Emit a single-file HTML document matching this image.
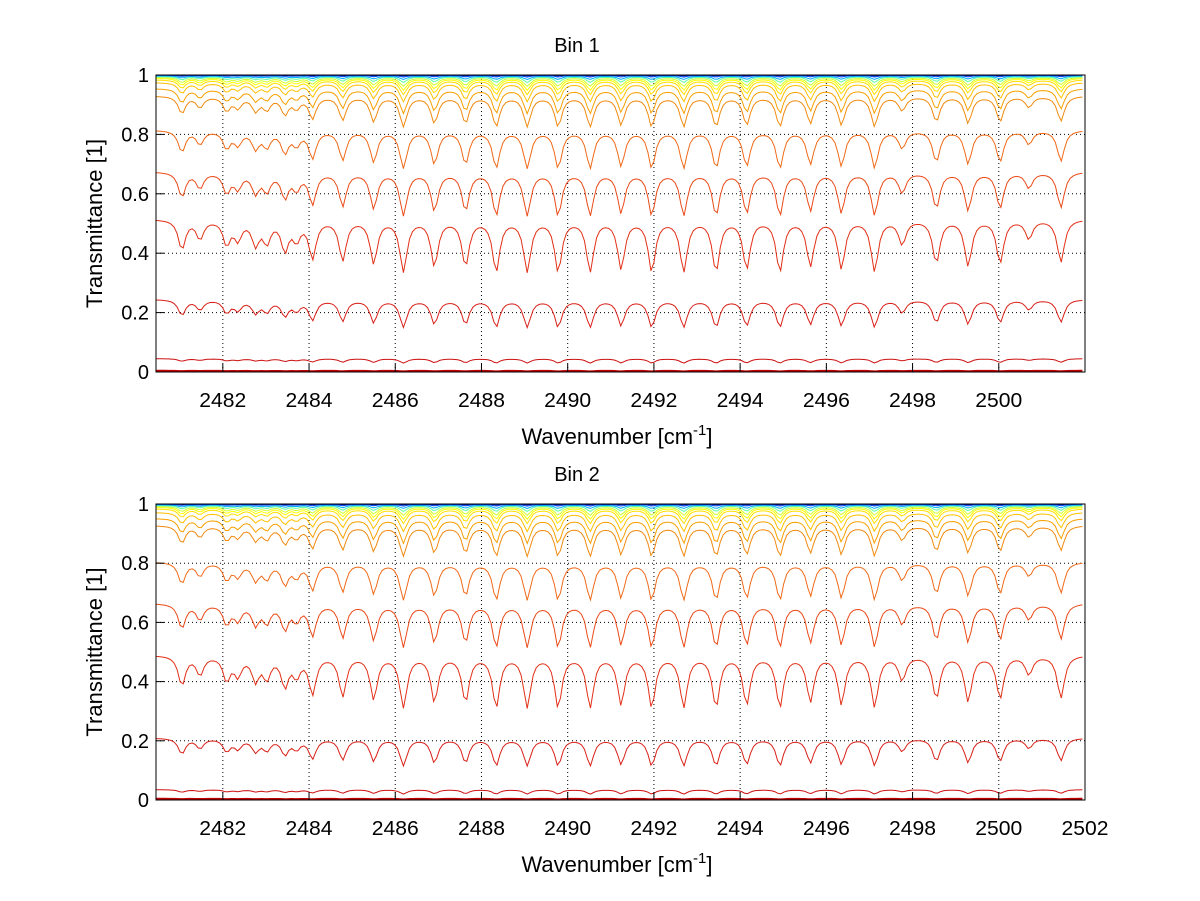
<!DOCTYPE html>
<html><head><meta charset="utf-8"><style>
body{margin:0;background:#fff;}
svg{display:block;font-family:"Liberation Sans",sans-serif;}
</style></head><body>
<svg id="fig" width="1200" height="901" viewBox="0 0 1200 901" xmlns="http://www.w3.org/2000/svg"></svg>
<script>
// Absorption line centres (cm^-1) and relative strengths
const lineCenters=[2481.05,2481.47,2482.09,2482.35,2482.76,2483.02,2483.44,2483.71,2484.08,2484.78,2485.50,2486.19,2486.91,2487.63,2488.34,2489.06,2489.78,2490.52,2491.24,2491.95,2492.69,2493.44,2494.15,2494.92,2495.63,2496.35,2497.12,2497.76,2498.55,2499.29,2500.03,2500.70,2501.44];
const lineStrengths=[0.55,0.35,0.45,0.35,0.45,0.4,0.55,0.35,0.7,0.75,0.8,0.95,0.85,0.85,0.95,0.95,0.95,0.95,0.9,0.95,0.95,0.95,0.9,0.95,0.85,0.9,0.95,0.45,0.8,0.85,0.8,0.35,0.8];
// Per-curve continuum level, absorption depth and colour (bin 1 / bin 2)
const levels1=[1.0,0.999,0.997,0.995,0.992,0.989,0.984,0.975,0.955,0.93,0.815,0.675,0.515,0.245,0.045,0.004];
const depths1=[0.003,0.006,0.012,0.02,0.03,0.04,0.05,0.065,0.085,0.105,0.13,0.15,0.18,0.095,0.015,0.002];
const levels2=[1.0,0.999,0.997,0.995,0.992,0.989,0.984,0.972,0.952,0.928,0.805,0.665,0.49,0.21,0.035,0.004];
const depths2=[0.003,0.006,0.012,0.02,0.03,0.04,0.05,0.065,0.085,0.105,0.13,0.15,0.18,0.095,0.015,0.002];
const curveColors=["#0020b0","#0050ff","#00b0ff","#60ffa0","#d0ff30","#ffff00","#ffe000","#ffc000","#f8a000","#f08a10","#f06a18","#ea4a18","#e23018","#d82018","#cc1010","#c00000"];
const xTicks1=[2482,2484,2486,2488,2490,2492,2494,2496,2498,2500];
const xTicks2=[2482,2484,2486,2488,2490,2492,2494,2496,2498,2500,2502];
const yTicks=[0,0.2,0.4,0.6,0.8,1];

const NS="http://www.w3.org/2000/svg";
const svg=document.getElementById('fig');
const XMIN=2480.45,XMAX=2502,PX0=156,PX1=1085;
function sx(w){return PX0+(w-XMIN)/(XMAX-XMIN)*(PX1-PX0);}
function mk(tag,attrs,parent){const e=document.createElementNS(NS,tag);for(const k in attrs)e.setAttribute(k,attrs[k]);(parent||svg).appendChild(e);return e;}
function absorb(w){let g=0;for(let i=0;i<lineCenters.length;i++){const d=(w-lineCenters[i])/0.1;g+=lineStrengths[i]/(1+d*d);}return Math.min(g,1.2);}

function panel(yTop,yBot,levels,depths,xTicks,title,idx){
  const sy=v=>yBot-v*(yBot-yTop);
  const g=mk('g',{});
  
  
  xTicks.forEach(t=>{const l=mk('line',{x1:sx(t),x2:sx(t),y1:yTop,y2:yBot,stroke:'#000','stroke-width':1,'stroke-dasharray':'1,3'},g);
    });
  yTicks.forEach(t=>{const l=mk('line',{x1:PX0,x2:PX1,y1:sy(t),y2:sy(t),stroke:'#000','stroke-width':1,'stroke-dasharray':'1,3'},g);
    });
  for(let c=levels.length-1;c>=0;c--){
    let d='';
    for(let w=XMIN;w<=XMAX+1e-9;w+=0.07){
      const v=levels[c]-depths[c]*absorb(w);
      d+=(d?'L':'M')+sx(w).toFixed(1)+','+sy(v).toFixed(1);
    }
    const p=mk('path',{d:d,fill:'none',stroke:curveColors[c],'stroke-width':c===levels.length-1?2:1},g);
    
    
  }
  const b=mk('rect',{x:PX0,y:yTop,width:PX1-PX0,height:yBot-yTop,fill:'none',stroke:'#000','stroke-width':1},g);
  
  xTicks.forEach(t=>{mk('line',{x1:sx(t),x2:sx(t),y1:yBot,y2:yBot-8,stroke:'#000'},g);
    const tx=mk('text',{x:sx(t),y:yBot+35,'font-size':20,'text-anchor':'middle',textLength:47,lengthAdjust:'spacingAndGlyphs'},g);tx.textContent=t;
    });
  yTicks.forEach(t=>{mk('line',{x1:PX0,x2:PX0+8,y1:sy(t),y2:sy(t),stroke:'#000'},g);
    const tx=mk('text',{x:149,y:sy(t)+7,'font-size':20,'text-anchor':'end'},g);tx.textContent=t;
    });
  const ti=mk('text',{x:577,y:yTop-23,'font-size':20,'text-anchor':'middle'},g);ti.textContent=title;
  
  const xl=mk('text',{x:617,y:yBot+72,'font-size':22,'text-anchor':'middle'},g);
  xl.innerHTML='Wavenumber [cm<tspan dy="-9" font-size="15">-1</tspan><tspan dy="9">]</tspan>';
  
  const cy=(yTop+yBot)/2;
  const yl=mk('text',{x:102,y:cy,'font-size':22,'text-anchor':'middle',transform:'rotate(-90 102 '+cy+')'},g);
  yl.textContent='Transmittance [1]';
  
}
panel(75,372,levels1,depths1,xTicks1,'Bin 1',1);
panel(504,800,levels2,depths2,xTicks2,'Bin 2',2);
</script>
</body></html>
